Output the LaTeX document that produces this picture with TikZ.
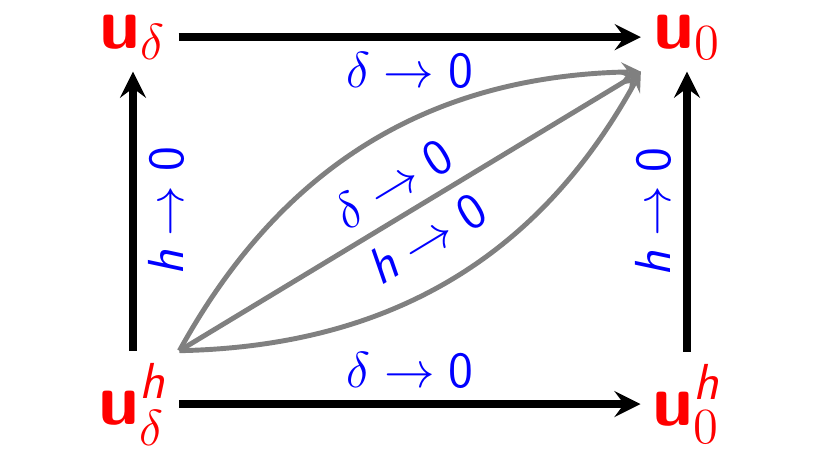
\documentclass[tikz,border=0pt]{standalone}
\usepackage{amsmath}
\usepackage{amsfonts}
\usepackage{color}
\usepackage{tikz}

\newcommand{\vu}{\textsf{\bfseries u}}
\newcommand{\sfo}{\textsf{0}}
\newcommand{\sfh}{\textsf{\itshape h}}

\begin{document}
\begin{tikzpicture}[>=stealth,
    vec/.style={text=red, font=\huge},
    lim/.style={midway, text=blue, font=\Large},
    lane/.style={->, line width=2.2pt},
    path/.style={->, gray, line width=1.4pt}]
        \useasboundingbox (0,0) rectangle (8.16,4.6);
        \matrix[column sep={5.54cm,between origins}, row sep={3.67cm,between origins}] at (4.10,2.30)
        {
          \node[vec](UD) {$\vu_\delta$}; & \node[vec](UZ) {$\vu_0$}; \\
          \node[vec](UDH) {$\vu^{\sfh}_\delta$}; & \node[vec](UZH) {$\vu^{\sfh}_0$}; \\
        };
      \draw[lane] (UD) -- (UZ) node[lim, below] {$\delta \to \sfo$};
      \draw[lane] (UDH) -- (UZH) node[lim, above] {$\delta \to \sfo$};
      \draw[lane] (UDH) -- (UD) node[lim, rotate=90, anchor=north] {$\sfh \to \sfo$};
      \draw[lane] (UZH) -- (UZ) node[lim, rotate=90, anchor=south] {$\sfh \to \sfo$};
      \draw[path] (UDH.north east) -- (UZ.south west)
        node[lim, sloped, above] {$\delta \to \sfo$}
        node[lim, sloped, below] {$\sfh \to \sfo$};
      \draw[path] (UDH.north east) to[bend left=30] (UZ.south west);
      \draw[path] (UDH.north east) to[bend right=30] (UZ.south west);
      \end{tikzpicture}
\end{document}
